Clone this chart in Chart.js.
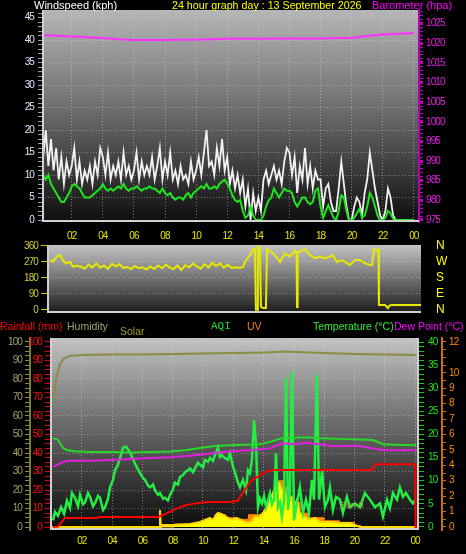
<!DOCTYPE html>
<html><head><meta charset="utf-8">
<script src="https://cdn.jsdelivr.net/npm/chart.js@4/dist/chart.umd.min.js"></script>
<style>
html,body{margin:0;padding:0;background:#000;width:466px;height:554px;overflow:hidden}
canvas{position:absolute;left:0;top:0}
.t{position:absolute;font-family:"Liberation Sans",Arial,sans-serif;font-size:11px;white-space:nowrap;line-height:11px}
.b{font-size:10.5px}
</style></head><body>
<canvas id="c1" width="466" height="554"></canvas>
<canvas id="c2" width="466" height="554"></canvas>
<canvas id="c3" width="466" height="554"></canvas>
<div class="t" style="left:340px;top:500px;color:#b0a43a;font-size:9px">Sun 9</div>
<div class="t" style="left:34px;top:0px;color:#ffffff">Windspeed (kph)</div>
<div class="t" style="left:172px;top:0px;color:#ffff00;font-size:10.7px">24 hour graph day : 13 September 2026</div>
<div class="t" style="left:372px;top:0px;color:#ff00ff">Barometer (hpa)</div>
<div class="t b" style="left:0px;top:321px;color:#ff0000">Rainfall (mm)</div>
<div class="t b" style="left:67px;top:321px;color:#a0a070">Humidity</div>
<div class="t b" style="left:120px;top:326px;color:#a09c28">Solar</div>
<div class="t" style="left:211px;top:321px;color:#10e030;font-family:'Liberation Mono',monospace">AQI</div>
<div class="t b" style="left:247px;top:321px;color:#f08020">UV</div>
<div class="t b" style="left:313px;top:321px;color:#30f030">Temperature (°C)</div>
<div class="t b" style="left:394px;top:321px;color:#ff00ff">Dew Point (°C)</div>
<script>
// ---------- Top panel: wind speed / gust / barometer (10-minute samples) ----------
const windHours = Array.from({length: 145}, (_, i) => i / 6);
const windGust = [22,14,20,12,18,11, 16,9,14,8,13,10, 12,16,9,13,8,11, 9,12,8,13,10,16, 14,10,15,9,12,10, 13,9,15,10,12,9,
  11,15,9,13,10,12, 10,14,9,12,16,9, 13,10,15,9,11,8, 12,9,10,8,13,9, 11,14,10,15,20,12, 13,10,16,12,18,11,
  14,8,11,7,10,6, 9,3,7,0,6,2, 5,2,9,11,8,10, 12,9,11,8,13,16, 15,10,14,6,12,9, 16,8,12,7,11,9,
  9,3,7,8,4,2, 2,7,13,8,3,0, 0,3,5,4,1,6, 9,15,11,7,4,1, 0,2,7,5,1,0, 0,0,0,0,0,0, 0];
const windAvg = [11,10,9,10,8,7, 6,5,4,4,5,6, 7.5,8,7.5,7,6,5, 5,5,5.5,6,6.5,7, 8,7,6.5,7,6.5,7, 7.5,7,8,7,6.5,7,
  7,7.5,7,6.5,7,7, 7.5,7,7,6.5,6,7, 6,5.5,6,5,4.5,5, 5,4.5,5.5,6,5,6, 6.5,7,7.5,7,8,7, 7,7.5,7,8,8.5,9,
  8,7,5.5,4.5,4,4.5, 2,0.5,1,3,1,0, 0,0,1,3,4.4,5, 7,6,5,6,7,6.5, 6.5,6,4,3,4,5, 5,4,3.5,4,6.5,7,
  3,0.5,2,3.3,2,0.5, 0,2,5.5,5,2,0, 0,0.5,1.5,2.5,0.5,1, 3,6,5,3,1,0, 0,0.5,2,1.5,0.3,0, 0,0,0,0,0,0, 0];
const baroHours = [0,1,2,3,4,5,6,7,8,9,10,11,12,13,14,15,16,17,18,19,20,21,22,23,24];
const baroHpa = [1022.1,1021.9,1021.7,1021.5,1021.3,1021.0,1020.8,1020.8,1020.8,1020.9,1020.9,1021.0,1021.1,
  1021.1,1021.1,1021.2,1021.2,1021.2,1021.2,1021.3,1021.3,1021.8,1022.2,1022.4,1022.6];

// ---------- Middle panel: wind direction ----------
const dirHours = [0,0.19,0.45,0.65,0.84,1.03,1.29,1.49,1.75,1.94,
  2,2.25,2.5,2.75,3,3.25,3.5,3.75,4,4.25,4.5,4.75,5,5.25,5.5,5.75,6,6.25,6.5,6.75,7,7.25,7.5,7.75,
  8,8.25,8.5,8.75,9,9.25,9.5,9.75,10,10.25,10.5,10.75,11,11.25,11.5,11.75,12,12.25,12.5,
  12.61,12.94,13.13,13.26,13.32,13.4,13.45,13.58,13.65,13.78,13.97,14.04,14.23,14.55,14.88,15.2,15.52,15.85,15.95,15.98,16.02,
  16.1,16.49,16.82,17.14,17.46,17.79,18.11,18.31,18.56,18.89,19.4,19.73,20.05,20.38,20.7,20.83,20.96,21.15,21.25,21.28,
  21.67,21.86,21.95,22.12,22.64,23.3,24];
const dirDeg = [281,272,300,309,281,263,270,244,250,242,
  245,232,255,240,262,238,250,232,260,245,258,236,242,230,248,235,240,228,245,232,250,235,255,240,
  230,250,225,252,240,262,245,232,258,240,265,248,262,238,255,236,240,236,242,
  270,309,342,342,2,2,356,350,19,11,11,342,333,309,270,318,300,333,320,17,326,
  326,342,309,290,300,290,300,309,270,281,253,281,281,262,253,253,342,333,340,28,
  28,11,25,28,28,28,28];
const compass = {0: 'N', 90: 'E', 180: 'S', 270: 'W', 360: 'N'};

// ---------- Bottom panel ----------
const tempHours = [0.1,0.36,0.56,0.76,1.02,1.55,2.54,3.86,5.18,6.5,7.82,8.81,9.8,10.79,11.78,12.77,13.76,14.42,15.21,16.07,16.86,17.72,18.71,19.5,20.36,21.22,21.88,22.67,24.08];
const tempC = [19.2,19.0,18.2,17.1,16.6,16.4,16.2,16.2,16.1,16.2,16.3,16.6,17.1,17.5,17.7,17.8,17.9,18.4,19.2,19.3,19.4,19.2,19.1,19.0,18.9,18.8,17.9,17.8,17.7];
const dewHours = [0.1,0.36,0.76,1.22,2.54,3.86,5.18,6.5,7.82,9.14,10.46,11.78,13.1,14.42,15.21,16.07,16.73,17.72,18.38,20.36,20.8,22.0,24.08];
const dewC = [13.0,13.4,14.1,14.3,14.3,14.5,14.7,14.9,15.1,15.4,15.9,16.4,16.6,17.0,18.1,17.9,18.2,17.9,17.5,17.5,17.2,16.6,16.6];
const humHours = [0.1,0.3,0.56,0.8,1.2,2,4,6,8,10,12,13.5,14.5,15.5,16.5,18,20,22,24.08];
const humPct = [68,80,88,91,92.5,93,93.2,93.3,93.5,93.8,94,94.2,94.5,94.8,94.5,94,93.5,93.2,93];
const rainHours = [0.1,0.43,0.7,0.9,3.0,3.1,7.03,7.5,8.0,8.68,9.3,10.26,11.8,12.3,12.45,12.77,13.1,13.76,14.29,14.62,21.15,21.4,24.0,24.03,24.26];
const rainMm = [0,0.3,3,4.9,4.9,5.4,5.4,7,9,11.4,12.5,13.5,13.5,14.2,16.4,20,24.5,28,30.3,30.8,30.8,33.9,33.9,0,0];
const aqiHours = [0.1,0.23,0.43,0.63,0.83,1.02,1.22,1.35,1.55,1.75,1.88,2.08,2.21,2.41,2.54,2.74,2.87,3.07,3.2,3.4,3.53,3.73,3.86,
  4.06,4.19,4.39,4.52,4.72,4.92,5.05,5.18,5.38,5.51,5.71,5.84,6.04,6.17,6.37,6.5,6.7,6.83,7.03,7.16,7.36,7.49,7.69,7.82,
  8.02,8.15,8.35,8.48,8.68,8.81,9.01,9.14,9.34,9.47,9.67,9.8,10.0,10.13,10.33,10.46,10.66,10.79,10.99,11.12,11.25,11.45,11.65,11.78,
  11.98,12.11,12.31,12.44,12.64,12.84,12.97,13.1,13.23,13.37,13.5,13.63,13.76,13.89,14.03,14.16,14.29,14.42,14.55,14.69,14.82,14.95,
  15.08,15.21,15.35,15.48,15.61,15.74,15.87,16.01,16.2,16.4,16.6,16.8,17.0,17.19,17.33,17.52,17.66,17.86,18.05,18.25,18.38,18.58,
  18.78,19.04,19.24,19.5,19.7,20.03,20.36,20.69,21.02,21.35,21.68,21.88,22.15,22.34,22.54,22.81,23.0,23.2,23.4,23.66,23.86,24.05];
const aqiVals = [7,16,12,21,14,28,20,36,31,22,34,24,26,36,32,22,25,33,31,18,21,30,42,
  50,60,66,73,84,85,82,79,72,67,61,57,52,50,44,42,45,39,34,36,30,31,28,34,
  40,47,45,53,55,58,60,62,58,62,68,66,63,71,69,73,70,76,84,74,76,73,71,78,
  64,58,47,42,50,39,60,57,71,113,89,21,30,25,33,21,28,36,24,29,78,21,
  26,11,29,158,18,36,164,7,25,42,15,29,15,50,29,161,29,60,21,29,42,18,
  32,29,15,32,21,25,21,36,29,21,25,11,29,20,36,29,42,32,36,29,25,29];
const solarHours = [0,7.0,7.1,7.16,7.22,7.3,7.49,8.15,9.14,9.8,10.13,10.46,10.66,10.86,10.99,11.25,11.45,11.65,11.91,12.18,12.51,12.84,
  13.17,13.43,13.7,13.96,14.22,14.42,14.62,14.82,15.02,15.21,15.41,15.61,15.81,16.01,16.2,16.4,16.73,17.06,17.39,17.72,18.38,19.04,19.7,20.03,20.36,24.08];
const solarWm2 = [0,0,0,92,0,11,11,11,16,27,38,49,38,65,76,70,59,49,38,49,38,22,
  27,54,54,76,108,146,184,227,238,200,184,130,157,108,146,76,54,38,49,27,27,22,22,11,0,0];
const uvHours = [0,8.0,8.1,10.3,10.8,11.5,12.3,13.0,14.0,14.4,14.7,15.0,15.3,15.6,16.0,16.4,17.0,18.0,19.0,20.0,20.4,24.08];
const uvIdx = [0,0,0.2,0.5,0.8,0.6,0.5,0.8,1.0,1.8,2.6,3.0,2.6,2.0,1.6,0.9,0.6,0.4,0.3,0.1,0,0];

// ---------- helpers ----------
const pts = (xs, ys) => xs.map((x, i) => ({x, y: ys[i]}));
const isMult = (v, m) => Math.abs(v / m - Math.round(v / m)) < 1e-6;
const hh = v => v <= 0 ? '' : String(Math.round(v) % 24).padStart(2, '0');
Chart.defaults.font.family = '"Liberation Sans",Arial,sans-serif';
Chart.defaults.font.size = 10;

const panelPlugin = {
  id: 'panel',
  beforeDraw(chart, _a, o) {
    const {ctx, chartArea: a} = chart;
    ctx.letterSpacing = '-0.9px';
    const g = ctx.createLinearGradient(0, a.top, 0, a.bottom);
    o.stops.forEach(s => g.addColorStop(s[0], s[1]));
    ctx.save();
    ctx.fillStyle = g;
    ctx.fillRect(a.left, a.top, a.right - a.left, a.bottom - a.top);
    ctx.restore();
  },
  afterDatasetsDraw(chart, _a, o) {
    const {ctx, chartArea: a} = chart;
    ctx.save();
    ctx.strokeStyle = o.frame;
    ctx.lineWidth = 2;
    ctx.beginPath();
    ctx.moveTo(a.left + 1, a.top);
    ctx.lineTo(a.left + 1, a.bottom - 1);
    ctx.lineTo(a.right - (o.right ? 1 : 0), a.bottom - 1);
    if (o.right) ctx.lineTo(a.right - 1, a.top);
    ctx.stroke();
    ctx.restore();
  }
};
const base = (padding, panel) => ({
  responsive: false, animation: false, events: [],
  elements: {point: {radius: 0}, line: {tension: 0}},
  layout: {padding},
  plugins: {legend: {display: false}, tooltip: {enabled: false}, panel}
});
const dotted = {display: false, dash: [1, 2]};
const xGrid = c => (c.tick && c.tick.value > 0) ? 'rgba(220,220,220,0.5)' : 'transparent';

// ---------- Chart 1 ----------
const o1 = base({top: 10, bottom: 310, left: 0, right: 0},
  {stops: [[0, '#b6b6b6'], [0.45, '#707070'], [1, '#0e0e0e']], frame: '#d0d0d0'});
o1.scales = {
  x: {type: 'linear', min: 0.09, max: 24.33, afterFit: s => { s.height = 22; },
    ticks: {stepSize: 2, includeBounds: false, autoSkip: false, maxRotation: 0, color: '#e6e600', padding: 8, callback: hh},
    grid: {color: xGrid, drawTicks: false}, border: dotted},
  y: {position: 'left', min: -0.44, max: 46.67, afterFit: s => { s.width = 42; },
    ticks: {stepSize: 1, includeBounds: false, autoSkip: false, color: '#dce8ff', padding: 4,
      callback: v => isMult(v, 5) ? v : ''},
    grid: {color: c => (c.tick && isMult(c.tick.value, 5) && c.tick.value > 0) ? 'rgba(220,220,220,0.45)' : 'transparent',
      tickColor: '#9a9a9a', tickLength: 4}, border: dotted},
  yb: {position: 'right', min: 974.49, max: 1028.44, afterFit: s => { s.width = 47; },
    ticks: {stepSize: 1, includeBounds: false, autoSkip: false, color: '#e020e0', padding: 3,
      callback: v => isMult(v, 5) ? v : ''},
    grid: {drawOnChartArea: false, tickColor: '#c000c0', tickLength: 4,
      tickWidth: c => (c.tick && isMult(c.tick.value, 5)) ? 3 : 1},
    border: {display: true, color: '#b000b0', width: 2}}
};
new Chart(document.getElementById('c1'), {
  type: 'line',
  data: {datasets: [
    {data: pts(windHours, windGust), borderColor: '#f2f2f2', borderWidth: 1.8, yAxisID: 'y', order: 3},
    {data: pts(windHours, windAvg), borderColor: '#1ee61e', borderWidth: 2, yAxisID: 'y', order: 2},
    {data: pts(baroHours, baroHpa), borderColor: '#ff30ff', borderWidth: 2, yAxisID: 'yb', order: 1}
  ]},
  options: o1, plugins: [panelPlugin]
});

// ---------- Chart 2 ----------
const o2 = base({top: 245, bottom: 241, left: 0, right: 0},
  {stops: [[0, '#c4c4c4'], [0.5, '#707070'], [1, '#1a1a1a']], frame: '#cfcfcf'});
o2.scales = {
  x: {type: 'linear', min: -0.19, max: 24.0, display: false},
  y: {position: 'left', min: -16.9, max: 365.6, afterFit: s => { s.width = 47; },
    ticks: {stepSize: 90, includeBounds: false, autoSkip: false, color: '#cccc30', padding: 3},
    grid: {color: c => (c.tick && c.tick.value > 0 && c.tick.value < 360) ? 'rgba(220,220,220,0.45)' : 'transparent',
      tickColor: '#c8c800', tickLength: 6}, border: dotted},
  yr: {position: 'right', min: -16.9, max: 365.6, afterFit: s => { s.width = 45; },
    afterBuildTicks: s => { s.ticks = Object.keys(compass).map(k => ({value: +k})); },
    ticks: {autoSkip: false, color: '#ffff00', padding: 15, font: {size: 12},
      callback: v => compass[v] || ''},
    grid: {display: false, drawTicks: false}, border: {display: false}}
};
new Chart(document.getElementById('c2'), {
  type: 'line',
  data: {datasets: [
    {data: pts(dirHours, dirDeg), borderColor: '#e8e800', borderWidth: 2}
  ]},
  options: o2, plugins: [panelPlugin]
});

// ---------- Chart 3 ----------
const o3 = base({top: 338, bottom: 0, left: 0, right: 0},
  {stops: [[0, '#c2c2c2'], [0.45, '#6a6a6a'], [1, '#0a0a0a']], frame: '#d0d0d0', right: true});
o3.scales = {
  x: {type: 'linear', min: -0.1, max: 24.26, afterFit: s => { s.height = 24; },
    ticks: {stepSize: 2, includeBounds: false, autoSkip: false, maxRotation: 0, color: '#e6e600', padding: 5, callback: hh},
    grid: {color: xGrid, drawTicks: false}, border: dotted},
  yh: {position: 'left', weight: 1, min: -1.62, max: 102.16, afterFit: s => { s.width = 30; },
    ticks: {stepSize: 2.5, includeBounds: false, autoSkip: false, color: '#a0a068', padding: 3,
      callback: v => isMult(v, 10) ? v : ''},
    grid: {color: c => (c.tick && isMult(c.tick.value, 10) && c.tick.value > 0) ? 'rgba(220,220,220,0.42)' : 'transparent',
      tickColor: '#8a8a3a', tickLength: 5},
    border: {display: true, color: '#7a7a30', width: 2, dash: [1, 2]}},
  yr: {position: 'left', weight: 0, min: -1.62, max: 102.16, afterFit: s => { s.width = 20; },
    ticks: {stepSize: 2.5, includeBounds: false, autoSkip: false, color: '#ff1010', padding: 3,
      callback: v => isMult(v, 10) ? v : ''},
    grid: {drawOnChartArea: false, tickColor: '#e00000', tickLength: 5}, border: {display: false}},
  yt: {position: 'right', weight: 0, min: -0.649, max: 40.865, afterFit: s => { s.width = 23; },
    ticks: {stepSize: 1, includeBounds: false, autoSkip: false, color: '#20e020', padding: 4,
      callback: v => isMult(v, 5) ? v : ''},
    grid: {drawOnChartArea: false, tickColor: '#20c020', tickLength: 5}, border: {display: false}},
  ya: {position: 'right', weight: 1, min: -3.18, max: 200.1, afterFit: s => { s.width = 0; },
    ticks: {stepSize: 20, includeBounds: false, autoSkip: false, color: '#40e040', padding: 7,
      callback: v => v <= 180 ? v : ''},
    grid: {display: false, drawTicks: false}, border: {display: false}},
  yu: {position: 'right', weight: 2, min: -0.195, max: 12.259, afterFit: s => { s.width = 24; },
    ticks: {stepSize: 0.5, includeBounds: false, autoSkip: false, color: '#ff8800', padding: 3,
      callback: v => (isMult(v, 1) && Math.round(v) !== 11) ? v : ''},
    grid: {drawOnChartArea: false, tickColor: '#d07010', tickLength: 4}, border: {display: true, color: '#c87010', width: 2}},
  ys: {display: false, min: -16.2, max: 1021.6}
};
new Chart(document.getElementById('c3'), {
  type: 'line',
  data: {datasets: [
    {data: pts(uvHours, uvIdx), yAxisID: 'yu', borderColor: '#ff8800', backgroundColor: '#ff8800', borderWidth: 1, fill: 'origin', stepped: true, order: 9},
    {data: pts(solarHours, solarWm2), yAxisID: 'ys', borderColor: '#ffd800', backgroundColor: '#ffff00', borderWidth: 2, fill: 'origin', order: 8},
    {data: pts(aqiHours, aqiVals), yAxisID: 'ya', borderColor: '#22ee44', borderWidth: 2.5, order: 7},
    {data: pts(humHours, humPct), yAxisID: 'yh', borderColor: '#8c8c40', borderWidth: 2, order: 6},
    {data: pts(dewHours, dewC), yAxisID: 'yt', borderColor: '#e020e0', borderWidth: 2, order: 5},
    {data: pts(tempHours, tempC), yAxisID: 'yt', borderColor: '#28d828', borderWidth: 2, order: 4},
    {data: pts(rainHours, rainMm), yAxisID: 'yr', borderColor: '#ff0000', borderWidth: 2, order: 3}
  ]},
  options: o3, plugins: [panelPlugin]
});
</script>
</body></html>
